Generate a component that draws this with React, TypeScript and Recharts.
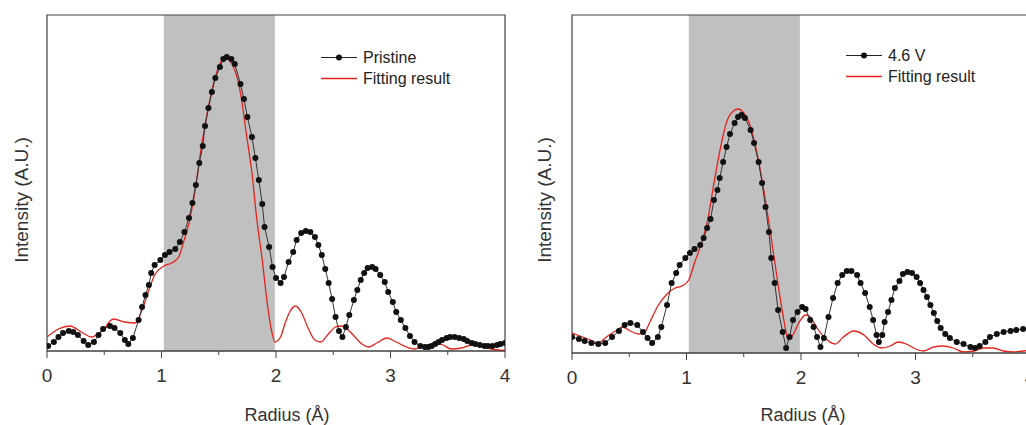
import React from 'react';
import {
  LineChart,
  Line,
  XAxis,
  YAxis,
  ReferenceArea,
} from 'recharts';

// radius (Å) / intensity (a.u.)
const pristineR = [0.01, 0.06, 0.1, 0.14, 0.19, 0.23, 0.27, 0.32, 0.36, 0.41, 0.45, 0.49, 0.55, 0.59, 0.64, 0.68, 0.71, 0.75, 0.8, 0.83, 0.86, 0.89, 0.91, 0.94, 0.99, 1.03, 1.07, 1.12, 1.16, 1.2, 1.24, 1.27, 1.3, 1.33, 1.36, 1.38, 1.41, 1.44, 1.47, 1.51, 1.54, 1.57, 1.61, 1.64, 1.69, 1.72, 1.75, 1.79, 1.82, 1.85, 1.88, 1.9, 1.94, 1.97, 2.0, 2.04, 2.07, 2.11, 2.15, 2.18, 2.22, 2.26, 2.3, 2.34, 2.37, 2.4, 2.43, 2.46, 2.49, 2.52, 2.55, 2.58, 2.61, 2.64, 2.68, 2.71, 2.74, 2.77, 2.8, 2.84, 2.87, 2.91, 2.95, 2.98, 3.02, 3.05, 3.09, 3.13, 3.17, 3.21, 3.26, 3.3, 3.33, 3.36, 3.39, 3.42, 3.45, 3.49, 3.52, 3.56, 3.6, 3.64, 3.67, 3.71, 3.74, 3.78, 3.82, 3.85, 3.89, 3.93, 3.96, 4.0];
const pristineI = [5, 9, 14, 18, 20, 19, 16, 10, 6, 9, 16, 22, 25, 23, 18, 11, 7, 13, 31, 44, 56, 66, 78, 86, 91, 96, 99, 102, 109, 119, 133, 148, 166, 188, 205, 225, 243, 259, 273, 284, 292, 294, 292, 287, 267, 252, 234, 214, 193, 171, 147, 124, 104, 84, 73, 68, 74, 89, 99, 111, 118, 120, 119, 114, 106, 96, 82, 68, 52, 34, 20, 14, 24, 36, 51, 61, 71, 78, 83, 84, 82, 76, 69, 59, 49, 39, 31, 23, 15, 9, 5, 4, 4, 5, 7, 9, 11, 13, 14, 14, 13, 12, 10, 8, 7, 6, 5, 5, 5, 6, 7, 8];
const pristineFitR = [0.0, 0.1, 0.2, 0.3, 0.39, 0.48, 0.58, 0.68, 0.77, 0.83, 0.89, 0.94, 1.02, 1.09, 1.15, 1.19, 1.24, 1.29, 1.35, 1.41, 1.47, 1.52, 1.57, 1.61, 1.66, 1.7, 1.74, 1.79, 1.83, 1.88, 1.92, 1.96, 1.99, 2.04, 2.08, 2.12, 2.17, 2.22, 2.28, 2.34, 2.39, 2.45, 2.52, 2.57, 2.63, 2.69, 2.75, 2.81, 2.88, 2.97, 3.05, 3.14, 3.21, 3.3, 3.39, 3.46, 3.53, 3.62, 3.71, 3.8, 3.88, 4.0];
const pristineFitI = [14, 22, 25, 19, 14, 20, 32, 29, 28, 41, 61, 76, 85, 88, 94, 108, 128, 158, 205, 244, 274, 289, 293, 288, 274, 251, 218, 178, 134, 91, 51, 21, 9, 14, 28, 39, 45, 39, 23, 11, 9, 16, 24, 25, 21, 14, 7, 4, 8, 13, 9, 4, 2, 5, 8, 6, 2, 3, 6, 5, 2, 0.5];

const chargedR = [0.0, 0.06, 0.11, 0.17, 0.23, 0.29, 0.35, 0.41, 0.46, 0.51, 0.57, 0.62, 0.66, 0.7, 0.75, 0.78, 0.83, 0.87, 0.91, 0.94, 0.99, 1.03, 1.07, 1.12, 1.15, 1.18, 1.21, 1.24, 1.27, 1.29, 1.32, 1.35, 1.38, 1.42, 1.45, 1.48, 1.51, 1.56, 1.59, 1.63, 1.66, 1.69, 1.72, 1.74, 1.77, 1.8, 1.84, 1.87, 1.9, 1.93, 1.97, 2.01, 2.04, 2.08, 2.11, 2.14, 2.17, 2.2, 2.24, 2.28, 2.32, 2.36, 2.4, 2.44, 2.49, 2.52, 2.56, 2.6, 2.63, 2.66, 2.68, 2.71, 2.73, 2.76, 2.79, 2.82, 2.86, 2.89, 2.93, 2.97, 3.01, 3.04, 3.07, 3.1, 3.13, 3.16, 3.19, 3.22, 3.26, 3.3, 3.36, 3.42, 3.48, 3.52, 3.56, 3.61, 3.65, 3.71, 3.77, 3.83, 3.88, 3.94, 4.0];
const chargedI = [16, 14, 12, 10, 9, 10, 16, 22, 28, 30, 28, 21, 15, 10, 16, 26, 48, 70, 80, 88, 95, 100, 104, 108, 115, 125, 134, 153, 163, 175, 191, 206, 219, 230, 236, 238, 235, 223, 210, 191, 170, 146, 121, 95, 70, 43, 21, 5, 16, 33, 41, 46, 44, 33, 26, 16, 6, 15, 36, 55, 70, 78, 82, 82, 78, 70, 60, 46, 33, 18, 11, 18, 31, 41, 53, 65, 72, 79, 81, 80, 76, 70, 63, 56, 48, 40, 32, 25, 19, 15, 11, 9, 6, 5, 7, 11, 16, 19, 21, 22, 23, 24, 25];
const chargedFitR = [0.0, 0.07, 0.16, 0.23, 0.3, 0.38, 0.44, 0.51, 0.58, 0.63, 0.68, 0.75, 0.83, 0.9, 0.96, 1.02, 1.07, 1.13, 1.18, 1.24, 1.3, 1.35, 1.41, 1.45, 1.5, 1.56, 1.61, 1.67, 1.73, 1.79, 1.85, 1.89, 1.93, 1.98, 2.04, 2.08, 2.14, 2.21, 2.3, 2.37, 2.46, 2.55, 2.63, 2.7, 2.78, 2.85, 2.92, 3.0, 3.07, 3.16, 3.24, 3.33, 3.42, 3.51, 3.59, 3.68, 3.77, 3.86, 3.94, 4.0];
const chargedFitI = [20, 17, 13, 10, 16, 22, 26, 22, 19, 20, 31, 47, 59, 65, 67, 73, 90, 110, 130, 170, 207, 231, 242, 244, 240, 226, 203, 166, 123, 76, 33, 13, 18, 30, 38, 36, 25, 15, 9, 16, 22, 18, 9, 5, 7, 11, 9, 4, 2, 6, 7, 5, 1, 2, 5, 5, 2, 1, 2, 2.5];

const xTicks = [0, 0.5, 1, 1.5, 2, 2.5, 3, 3.5, 4];
const FONT = 'Arial, "Liberation Sans", sans-serif';

const toPoints = (r: number[], v: number[]) => r.map((x, i) => ({ r: x, v: v[i] }));

const AxisTick = (props: any) => {
  const { x, y, payload } = props;
  const major = Number.isInteger(payload.value);
  return (
    <g>
      <line x1={x} x2={x} y1={y} y2={y + (major ? 7 : 4)} stroke="#404040" />
      {major && (
        <text x={x} y={y + 31} textAnchor="middle" fontSize={19} fill="#333" fontFamily={FONT}>
          {payload.value}
        </text>
      )}
    </g>
  );
};

const Dot = (props: any) => {
  const { cx, cy, key } = props;
  return <circle key={key} cx={cx} cy={cy} r={3} fill="#111" />;
};

function LegendBox({ label, left, top }: { label: string; left: number; top: number }) {
  return (
    <div style={{ position: 'absolute', left, top, fontFamily: FONT, fontSize: 16, color: '#222', lineHeight: '21px' }}>
      <div style={{ display: 'flex', alignItems: 'center' }}>
        <svg width={40} height={21}>
          <line x1={0} x2={36} y1={10.5} y2={10.5} stroke="#222" strokeWidth={1.2} />
          <circle cx={18} cy={10.5} r={3} fill="#111" />
        </svg>
        <span style={{ marginLeft: 2 }}>{label}</span>
      </div>
      <div style={{ display: 'flex', alignItems: 'center' }}>
        <svg width={40} height={21}>
          <line x1={0} x2={36} y1={10.5} y2={10.5} stroke="#e3231d" strokeWidth={1.5} />
        </svg>
        <span style={{ marginLeft: 2 }}>Fitting result</span>
      </div>
    </div>
  );
}

interface PanelProps {
  data: { r: number; v: number }[];
  fit: { r: number; v: number }[];
  left: number;
  margin: { top: number; right: number; left: number; bottom: number };
  yMax: number;
}

function Panel({ data, fit, left, margin, yMax }: PanelProps) {
  return (
    <div style={{ position: 'absolute', left, top: 0 }}>
      <LineChart width={520} height={425} margin={margin}>
        <XAxis
          type="number"
          dataKey="r"
          domain={[0, 4]}
          ticks={xTicks}
          interval={0}
          height={30}
          tickSize={0}
          tickMargin={0}
          tickLine={false}
          tick={<AxisTick />}
          axisLine={{ stroke: '#404040' }}
          allowDataOverflow
        />
        <YAxis type="number" domain={[0, yMax]} hide allowDataOverflow />
        <ReferenceArea x1={1.02} x2={1.99} y1={0} y2={yMax} fill="#c0c0c0" fillOpacity={1} stroke="none" />
        <ReferenceArea x1={0} x2={4} y1={0} y2={yMax} fill="none" stroke="#404040" strokeWidth={1.2} ifOverflow="visible" />
        <Line
          data={fit}
          dataKey="v"
          type="monotone"
          stroke="#e3231d"
          strokeWidth={1.3}
          dot={false}
          isAnimationActive={false}
        />
        <Line
          data={data}
          dataKey="v"
          type="linear"
          stroke="#333"
          strokeWidth={1}
          dot={<Dot />}
          isAnimationActive={false}
        />
      </LineChart>
    </div>
  );
}

const titleStyle: React.CSSProperties = {
  position: 'absolute',
  fontFamily: FONT,
  fontSize: 18,
  color: '#333',
  whiteSpace: 'nowrap',
  transform: 'translate(-50%, -50%)',
};

export default function App() {
  return (
    <div style={{ position: 'absolute', left: 0, top: 0, width: 1026, height: 425, overflow: 'hidden', background: '#fff' }}>
      <Panel
        data={toPoints(pristineR, pristineI)}
        fit={toPoints(pristineFitR, pristineFitI)}
        left={0}
        margin={{ top: 15, right: 15, left: 47, bottom: 44 }}
        yMax={336}
      />
      <Panel
        data={toPoints(chargedR, chargedI)}
        fit={toPoints(chargedFitR, chargedFitI)}
        left={520}
        margin={{ top: 15, right: 10, left: 52, bottom: 42 }}
        yMax={338}
      />
      <LegendBox label="Pristine" left={321} top={47} />
      <LegendBox label="4.6 V" left={846} top={45} />
      <div style={{ ...titleStyle, left: 287, top: 415 }}>Radius (Å)</div>
      <div style={{ ...titleStyle, left: 803, top: 415 }}>Radius (Å)</div>
      <div style={{ ...titleStyle, left: 22, top: 200, fontSize: 19, transform: 'translate(-50%, -50%) rotate(-90deg)' }}>
        Intensity (A.U.)
      </div>
      <div style={{ ...titleStyle, left: 545, top: 200, fontSize: 19, transform: 'translate(-50%, -50%) rotate(-90deg)' }}>
        Intensity (A.U.)
      </div>
    </div>
  );
}
